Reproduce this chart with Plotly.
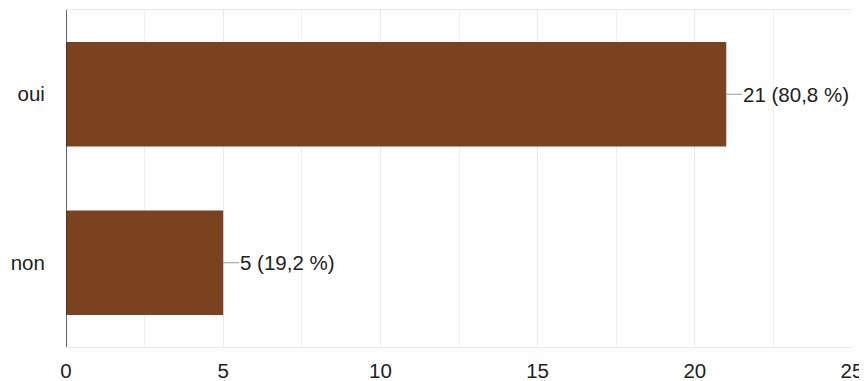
import plotly.graph_objects as go

categories = ["oui", "non"]
counts = [21, 5]
labels = ["21 (80,8 %)", "5 (19,2 %)"]
x_ticks = [0, 5, 10, 15, 20, 25]

FONT = "Arial, Liberation Sans, Helvetica, sans-serif"
BAR = "#7b4220"
FS = 20.5

# the page body adds an 8px margin, so the figure is drawn 8px in from the top-left
fig = go.Figure()
fig.add_trace(go.Bar(
    y=categories, x=counts, orientation="h",
    marker=dict(color=BAR, line=dict(width=0)),
    hoverinfo="skip",
))

for c, v, t in zip(categories, counts, labels):
    fig.add_annotation(
        x=v, y=c, xref="x", yref="y", text=t,
        showarrow=True, arrowhead=0, arrowwidth=1, arrowcolor="#9a9a9a",
        ax=16, ay=0, xanchor="left", borderpad=0,
        font=dict(family=FONT, size=FS, color="#222222"),
    )

fig.update_layout(
    width=859, height=373,
    margin=dict(l=58, r=15, t=2, b=34, autoexpand=False),
    paper_bgcolor="white", plot_bgcolor="white",
    bargap=0.38, showlegend=False,
    font=dict(family=FONT, size=FS, color="#222222"),
    xaxis=dict(
        range=[0, 25], tickvals=x_ticks, ticktext=[str(t) for t in x_ticks],
        showgrid=True, gridcolor="#ebebeb", gridwidth=1,
        minor=dict(dtick=2.5, showgrid=True, gridcolor="#f1f1f1", gridwidth=1),
        zeroline=False, showline=True, linecolor="#ebebeb", linewidth=1, mirror=True,
        ticks="outside", ticklen=5, tickcolor="white",
        tickfont=dict(family=FONT, size=FS, color="#222222"),
        automargin=False, fixedrange=True,
    ),
    yaxis=dict(
        categoryorder="array", categoryarray=["non", "oui"],
        showgrid=False, zeroline=False,
        ticks="outside", ticklen=16, tickcolor="white",
        tickfont=dict(family=FONT, size=FS, color="#222222"),
        automargin=False, fixedrange=True,
    ),
)

fig.add_shape(type="line", xref="x", yref="paper", x0=0, x1=0, y0=0, y1=1,
              line=dict(color="#333333", width=1.5), layer="above")

fig.write_html("out.html")
